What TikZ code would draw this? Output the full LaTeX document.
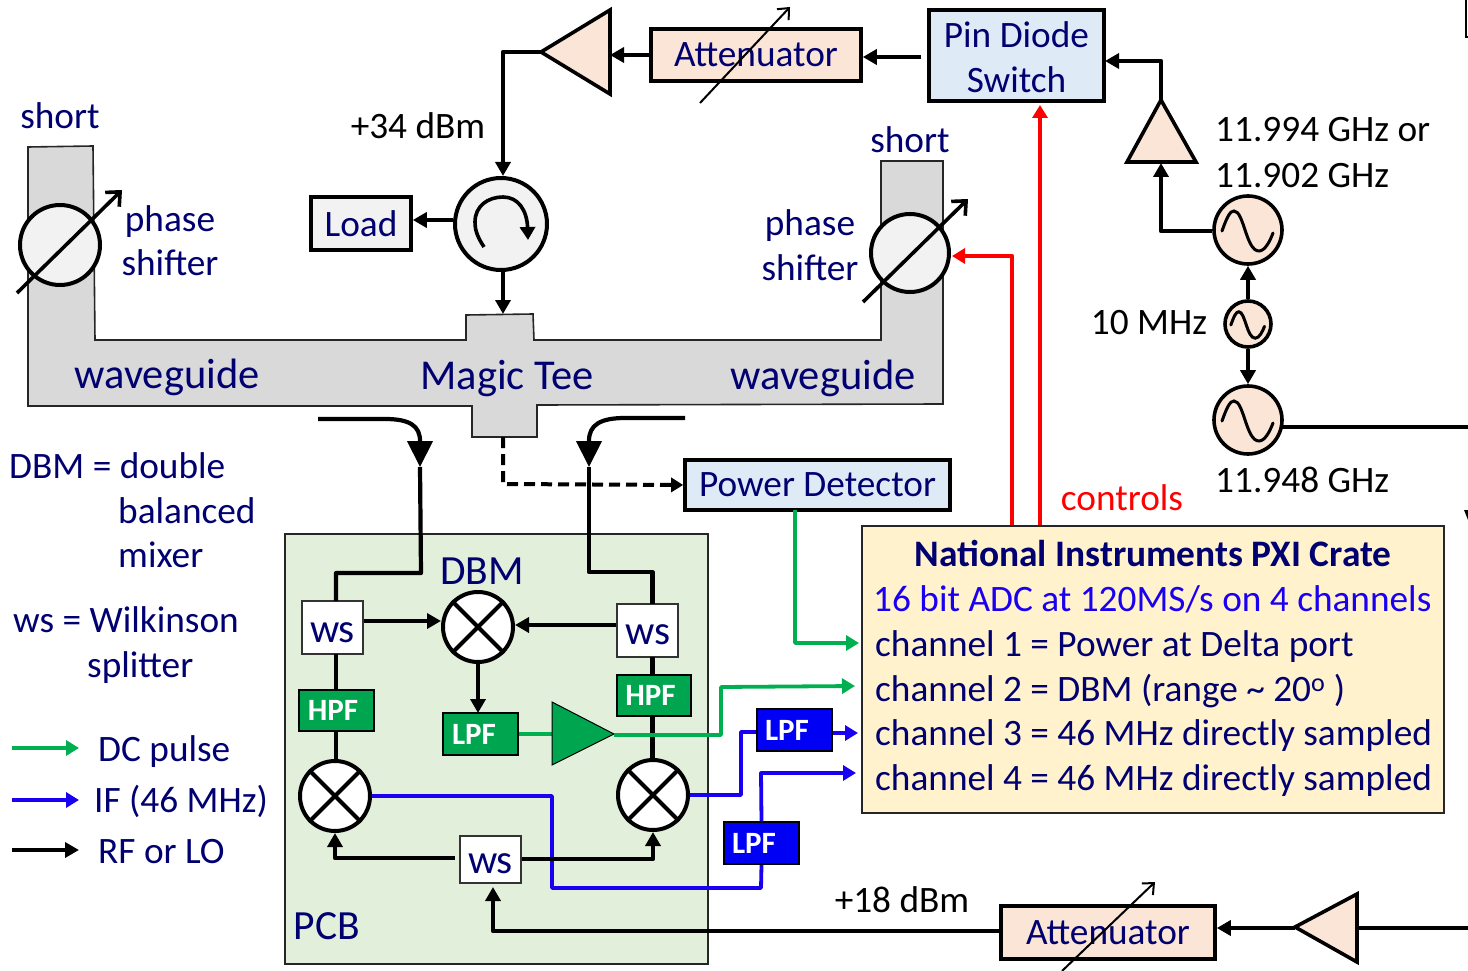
\documentclass[tikz,border=0pt]{standalone}
\usepackage{fontspec}
\setmainfont{Carlito}
\usetikzlibrary{arrows.meta}
\definecolor{navy}{HTML}{000070}
\definecolor{peach}{HTML}{FBE5D6}
\definecolor{lblue}{HTML}{DEEBF7}
\definecolor{lgrey}{HTML}{F2F2F2}
\definecolor{wg}{HTML}{D9D9D9}
\definecolor{pcbg}{HTML}{E2EFDA}
\definecolor{cream}{HTML}{FFF2CC}
\definecolor{grn}{HTML}{00B050}
\definecolor{dgrn}{HTML}{00A64F}
\definecolor{blu}{HTML}{1A00F0}
\definecolor{fblu}{HTML}{0000F5}
\newcommand{\fsz}[1]{\fontsize{#1}{#1}\selectfont}
\newcommand{\sinewave}[3]{\draw[line width=3pt,line cap=round,shift={(#1,#2)},scale=#3] (-26,0) .. controls (-21,-14) and (-18,-20) .. (-14,-20) .. controls (-4,-20) and (-2,20) .. (11,20) .. controls (17,20) and (22,10) .. (25,2);}
\tikzset{
  x=1pt,y=-1pt,
  wire/.style={line width=4.2pt,draw=black,line join=round,-{Triangle[length=14pt,width=15pt]}},
  plain/.style={line width=4.2pt,draw=black,line join=round},
  grnw/.style={line width=3.8pt,draw=grn,line join=round,-{Triangle[length=13pt,width=15pt]}},
  bluw/.style={line width=3.8pt,draw=blu,line join=round,-{Triangle[length=13pt,width=15pt]}},
  redw/.style={line width=4.2pt,draw=red,line join=round,-{Triangle[length=13pt,width=15pt]}},
  bigw/.style={line width=4.2pt,draw=black,line join=round,-{Triangle[length=26pt,width=25pt]}},
  tune/.style={line width=2pt,draw=black,-{Straight Barb[length=9pt,width=16pt,line width=2pt]}},
  tunethick/.style={line width=3.6pt,draw=black,-{Straight Barb[length=11pt,width=20pt,line width=3.6pt]}},
  blockbox/.style={draw=black,line width=3.6pt,inner sep=0pt,font=\fontsize{37.3}{45}\selectfont,text=navy,align=center},
  wsbox/.style={draw=black!80,fill=white,line width=1.8pt,inner sep=0pt,font=\fsz{41},text=navy},
  fbox/.style={draw=black,line width=2pt,inner sep=0pt,font=\fsz{31}\bfseries,text=white},
  mix/.style={circle,draw=black,fill=white,line width=4pt,minimum size=70pt,inner sep=0pt},
  osc/.style={circle,draw=black,fill=peach,line width=3.6pt,inner sep=0pt},
  amp/.style={draw=black,fill=peach,line width=3.6pt,line join=miter},
  lab/.style={inner sep=0pt,anchor=base,font=\fsz{37.3},text=navy,yshift=-1pt},
  labl/.style={inner sep=0pt,anchor=base west,font=\fsz{37.3},text=navy,yshift=-1pt},
  blk/.style={inner sep=0pt,anchor=base west,font=\fsz{37.3},text=black,yshift=-1pt},
}
\begin{document}
\begin{tikzpicture}
\useasboundingbox (0,0) rectangle (1468,971);
% waveguide
\draw[fill=wg,draw=black!85,line width=1.6pt,line join=miter] (28,147) -- (93,146) -- (95,340) -- (466,340) -- (466,315) -- (533,314) -- (534,340) -- (881,340) -- (881,161) -- (943,161) -- (943,404) -- (537,405) -- (537,437) -- (472,437) -- (472,406) -- (28,406) -- cycle;
% PCB
\node[draw=black!85,fill=pcbg,line width=2pt,minimum width=423pt,minimum height=430pt,inner sep=0pt] (pcb) at (496.5,749) {};
% blocks
\node[blockbox,fill=peach,minimum width=210pt,minimum height=52pt] (att1) at (756,55) {Attenuator};
\node[blockbox,fill=lblue,minimum width=175pt,minimum height=91pt] (pin) at (1016.5,55.5) {};
\node[lab] (pinA) at (1016.5,47) {Pin Diode};
\node[lab] (pinB) at (1016.5,92) {Switch};
\node[blockbox,fill=lgrey,minimum width=100pt,minimum height=53pt] (load) at (361,223.5) {Load};
\node[blockbox,fill=lblue,minimum width=265pt,minimum height=50pt] (pd) at (817.5,485) {Power Detector};
\node[blockbox,fill=peach,minimum width=214pt,minimum height=53pt] (att2) at (1108,932.5) {Attenuator};
\node[draw=black!85,fill=cream,line width=2pt,minimum width=582pt,minimum height=287pt,inner sep=0pt] (ni) at (1153,669.5) {};
% circulator, phase shifters
\node[circle,draw=black,fill=lgrey,line width=4pt,minimum size=92pt,inner sep=0pt] (circ) at (501,224) {};
\draw[line width=3.6pt,-{Triangle[length=13pt,width=15pt]}] (484,247) .. controls (476,235) and (475,228) .. (475,222) .. controls (475,206) and (488,197) .. (503,197) .. controls (518,197) and (527,210) .. (528,240);
\node[circle,draw=black,fill=lgrey,line width=4pt,minimum size=80pt,inner sep=0pt] (psL) at (60,245) {};
\node[circle,draw=black,fill=lgrey,line width=4pt,minimum size=78pt,inner sep=0pt] (psR) at (910,253) {};
\coordinate (psLa) at (17,293); \coordinate (psLb) at (122,190);
\coordinate (psRa) at (863,302); \coordinate (psRb) at (968,199);
\draw[tunethick] (psLa) -- (psLb);
\draw[tunethick] (psRa) -- (psRb);
% top amp
\coordinate (a1t) at (610,10); \coordinate (a1b) at (610,94); \coordinate (a1tip) at (541,52);
\draw[amp] (a1t) -- (a1b) -- (a1tip) -- cycle;
\draw[tune] (700,103) -- (790,7);
% right amp
\coordinate (a2tip) at (1161,100); \coordinate (a2l) at (1127,162); \coordinate (a2r) at (1196,162);
\draw[amp] (a2tip) -- (a2l) -- (a2r) -- cycle;
% bottom amp
\coordinate (a3t) at (1357,894); \coordinate (a3b) at (1357,962); \coordinate (a3tip) at (1295,927);
\draw[amp] (a3t) -- (a3b) -- (a3tip) -- cycle;
\draw[tune] (1062,971) -- (1155,882);
% oscillators
\node[osc,minimum size=68pt] (o1) at (1248,230) {};
\node[osc,minimum size=46pt] (o2) at (1248,324) {};
\node[osc,minimum size=68pt] (o3) at (1248,420) {};
\sinewave{1248}{231}{1}
\sinewave{1248}{325}{0.66}
\sinewave{1248}{421}{1}
% top connectors
\coordinate (pinin) at (921,57);
\draw[wire] (pinin) -- (att1.east |- pinin);
\draw[wire] (att1.west) -- (a1b |- att1.west);
\draw[wire] (a1tip) -- (503,52) -- (503,176);
\draw[wire] (circ.west |- 0,220) -- (load.east |- 0,220);
\coordinate (teetop) at (503,314);
\draw[wire] (503,270) -- (teetop);
\draw[wire] (a2tip) -- (1161,61) -- (1105,61);
\draw[wire] (o1.west |- 0,231) -- (1161,231) -- (1161,163);
\draw[wire] (o2.north) -- (o1.south);
\draw[wire] (o2.south) -- (o3.north);
\coordinate (rfout) at (1468,427);
\draw[plain] (rfout) -- (1282,427);
% tee connectors
\coordinate (cL) at (318,419); \coordinate (hL) at (420,467);
\coordinate (cR) at (685,418); \coordinate (hR) at (589,467);
\draw[bigw] (cL) -- (385,419) .. controls (410,419) and (420,426) .. (420,441) -- (hL);
\draw[bigw] (cR) -- (625,418) .. controls (600,418) and (589,425) .. (589,441) -- (hR);
\coordinate (teebot) at (503,437);
\draw[line width=4pt,dash pattern=on 11pt off 6pt,-{Triangle[length=12pt,width=14pt]}] (teebot) -- (503,484) -- (pd.west);
% inner pcb
\node[wsbox,minimum width=61pt,minimum height=53pt] (wsL) at (332.5,627.5) {\raisebox{-15pt}[0pt][0pt]{ws}};
\node[wsbox,minimum width=61pt,minimum height=53pt] (wsR) at (647.5,630.5) {\raisebox{-13.5pt}[0pt][0pt]{ws}};
\node[wsbox,minimum width=61pt,minimum height=47pt] (wsB) at (490.5,859.5) {\raisebox{-13.5pt}[0pt][0pt]{ws}};
\node[mix] (dbm) at (478,627) {};
\node[mix] (mL) at (335,796) {};
\node[mix] (mR) at (653,795) {};
\foreach \m in {dbm,mL,mR}{\draw[line width=4pt] (\m.45) -- (\m.225); \draw[line width=4pt] (\m.135) -- (\m.-45);}
\node[fbox,fill=dgrn,minimum width=75pt,minimum height=41pt] (hpfL) at (336.5,710.5) {\hspace*{-7pt}HPF};
\node[fbox,fill=dgrn,minimum width=74pt,minimum height=41pt] (hpfR) at (654,695.5) {\hspace*{-7pt}HPF};
\node[fbox,fill=dgrn,minimum width=75pt,minimum height=42pt] (lpfG) at (480.5,734) {\hspace*{-13pt}LPF};
\node[fbox,fill=fblu,minimum width=75pt,minimum height=42pt] (lpfB) at (794.5,730) {\hspace*{-15pt}LPF};
\node[fbox,fill=fblu,minimum width=75pt,minimum height=42pt] (lpfC) at (761.5,843) {\hspace*{-15pt}LPF};
% black inner connectors
\draw[plain] (hL) -- (421,573) -- (336,573) -- (336,601);
\draw[plain] (hR) -- (589,572) -- (652.5,572) -- (652.5,604);
\draw[plain] (336,654) -- (336,690);
\draw[plain] (336,731) -- (336,761);
\draw[plain] (652.5,657) -- (652.5,675);
\draw[plain] (652.5,716) -- (652.5,760);
\draw[wire] (wsL.east |- 0,621) -- (dbm.west |- 0,621);
\draw[wire] (wsR.west |- 0,625) -- (dbm.east |- 0,625);
\draw[wire] (dbm.south) -- (478,713);
% blue
\draw[line width=3.8pt,draw=blu,line join=round] (mR.east) -- (741,795) -- (741,732) -- (lpfB.west |- 0,732);
\coordinate (chC) at (858,733);
\draw[bluw] (lpfB.east |- chC) -- (chC);
\draw[line width=3.8pt,draw=blu,line join=round] (mL.east) -- (552,796) -- (552,888) -- (761,888) -- (lpfC.south);
\coordinate (chD) at (856,773);
\draw[bluw] (lpfC.north) -- (761,773) -- (chD);
% black ws connectors
\draw[wire] (455,858) -- (335,858) -- (mL.south);
\draw[wire] (wsB.east |- 0,859) -- (653,859) -- (mR.south);
% green amp
\coordinate (ga) at (552,702); \coordinate (gb) at (552,765); \coordinate (gtip) at (614,734);
\draw[line width=3.8pt,draw=grn] (lpfG.east) -- (ga |- lpfG.east);
\draw[draw=black,fill=dgrn,line width=1pt] (ga) -- (gb) -- (gtip) -- cycle;
\coordinate (chB) at (855,686);
\draw[grnw] (gtip |- 0,735) -- (721,735) -- (721,687) -- (chB);
\coordinate (chA) at (859,643);
\draw[grnw] (795,510) -- (795,643) -- (chA);
% bottom rf
\draw[wire] (att2.west |- 0,931) -- (493,931) -- (493,887);
\draw[wire] (a3tip |- 0,928) -- (att2.east |- 0,928);
\coordinate (lo) at (1468,928);
\draw[plain] (lo) -- (a3b |- lo);
% red
\draw[redw] (1012,525) -- (1012,256) -- (952,256);
\draw[redw] (1040,525) -- (1040,105);
% texts
\node[lab] (t1) at (60,128) {short};
\node[lab] (t2) at (910,152) {short};
\node[lab] (t3) at (170,230) {phase};
\node[lab] (t4) at (170,274) {shifter};
\node[lab] (t5) at (810,235) {phase};
\node[lab] (t6) at (810,279) {shifter};
\node[lab,font=\fsz{42.5}] (t7) at (167,387) {waveguide};
\node[lab,font=\fsz{42.5}] (t8) at (507,388) {Magic Tee};
\node[lab,font=\fsz{42.5}] (t9) at (823,388) {waveguide};
\node[blk,anchor=base] (t10) at (418,138) {+34 dBm};
\node[blk] (t11) at (1215,141) {11.994 GHz or};
\node[blk] (t12) at (1215,186) {11.902 GHz};
\node[blk] (t13) at (1215,491) {11.948 GHz};
\node[blk,anchor=base] (t14) at (1149,333) {10 MHz};
\node[blk,anchor=base] (t15) at (902,911) {+18 dBm};
\node[lab,text=red] (t16) at (1122,509) {controls};
\node[labl] (l1) at (9,477) {DBM = double};
\node[labl] (l2) at (118,522) {balanced};
\node[labl] (l3) at (118,566) {mixer};
\node[labl] (l4) at (13,631) {ws = Wilkinson};
\node[labl] (l5) at (87,676) {splitter};
\node[labl] (l6) at (98,760) {DC pulse};
\node[labl] (l7) at (94,811) {IF (46 MHz)};
\node[labl] (l8) at (98,862) {RF or LO};
\node[lab,font=\fsz{41.5}] (l9) at (482,583) {DBM};
\node[lab,font=\fsz{41.5}] (l10) at (327,938) {PCB};
% legend
\coordinate (g1) at (12,748); \coordinate (g2) at (79,748);
\coordinate (b1) at (12,800); \coordinate (b2) at (79,800);
\coordinate (k1) at (12,850); \coordinate (k2) at (79,850);
\draw[grnw] (g1) -- (g2);
\draw[bluw] (b1) -- (b2);
\draw[wire] (k1) -- (k2);
% NI text
\node[lab,font=\fsz{37.4}\bfseries] (n0) at (1153,565) {National Instruments PXI Crate};
\node[labl,text=blu] (n1) at (873,610) {16 bit ADC at 120MS/s on 4 channels};
\node[labl] (n2) at (875,655) {channel 1 = Power at Delta port};
\node[labl] (n3) at (875,700) {channel 2 = DBM (range \textasciitilde{} 20\textsuperscript{o} )};
\node[labl] (n4) at (875,744) {channel 3 = 46 MHz directly sampled};
\node[labl] (n5) at (875,789) {channel 4 = 46 MHz directly sampled};
% edge fragments
\draw[line width=1.5pt] (1466,0) -- (1466,37) -- (1468,37);
\fill (1464,510) -- (1468,510) -- (1468,520) -- cycle;
\end{tikzpicture}
\end{document}
